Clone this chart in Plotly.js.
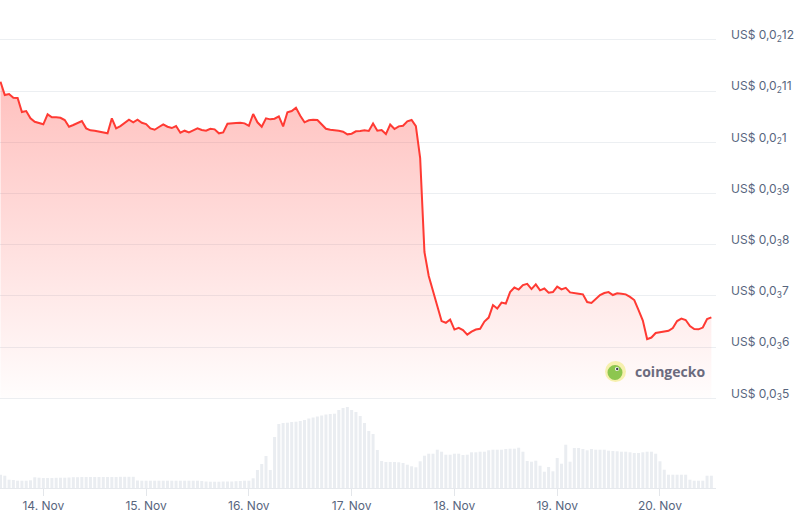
<!DOCTYPE html>
<html>
<head>
<meta charset="utf-8">
<script src="https://cdn.plot.ly/plotly-3.0.1.min.js"></script>
<style>html,body{margin:0;padding:0;background:#fff;}#chart{width:811px;height:518px;}</style>
</head>
<body>
<div id="chart"></div>
<script>
// Hourly series start (first hourly point) and count
const seriesStart = "2024-11-13T14:00:00";
// Price in USD, hourly from 13 Nov 14:00 to 20 Nov 12:00
const price = [
0.0011184,0.0010924,0.0010943,0.0010871,0.0010865,0.0010592,0.0010611,0.0010469,0.0010402,0.0010383,
0.0010352,0.0010547,0.0010488,0.0010488,0.0010480,0.0010436,0.0010305,0.0010338,0.0010371,0.0010416,
0.0010273,0.0010234,0.0010227,0.0010211,0.0010201,0.0010176,0.0010469,0.0010273,0.0010318,0.0010371,
0.0010441,0.0010391,0.0010441,0.0010383,0.0010357,0.0010273,0.0010246,0.0010299,0.0010352,0.0010305,
0.0010279,0.0010318,0.0010187,0.0010227,0.0010195,0.0010234,0.0010273,0.0010240,0.0010227,0.0010266,
0.0010254,0.0010176,0.0010195,0.0010363,0.0010363,0.0010377,0.0010383,0.0010371,0.0010324,0.0010553,
0.0010391,0.0010305,0.0010469,0.0010449,0.0010461,0.0010508,0.0010312,0.0010586,0.0010611,0.0010676,
0.0010520,0.0010391,0.0010430,0.0010441,0.0010436,0.0010352,0.0010266,0.0010246,0.0010240,0.0010227,
0.0010207,0.0010156,0.0010168,0.0010215,0.0010221,0.0010234,0.0010221,0.0010367,0.0010227,0.0010240,
0.0010162,0.0010348,0.0010260,0.0010312,0.0010324,0.0010410,0.0010436,0.0010318,0.0009693,0.0007858,
0.0007389,0.0007115,0.0006803,0.0006510,0.0006477,0.0006539,0.0006344,0.0006379,0.0006334,0.0006246,
0.0006305,0.0006344,0.0006360,0.0006500,0.0006578,0.0006822,0.0006754,0.0006871,0.0006852,0.0007076,
0.0007164,0.0007125,0.0007213,0.0007238,0.0007135,0.0007227,0.0007110,0.0007145,0.0007063,0.0007076,
0.0007184,0.0007129,0.0007158,0.0007070,0.0007063,0.0007043,0.0007031,0.0006881,0.0006862,0.0006949,
0.0007018,0.0007057,0.0007076,0.0007018,0.0007053,0.0007043,0.0007031,0.0006983,0.0006920,0.0006725,
0.0006520,0.0006158,0.0006188,0.0006276,0.0006295,0.0006309,0.0006319,0.0006373,0.0006510,0.0006559,
0.0006530,0.0006412,0.0006354,0.0006348,0.0006383,0.0006549,0.0006582
];
// Volume (relative units), hourly
const volume = [
133,123,83,80,73,73,73,77,107,103,
100,100,100,102,103,103,105,108,108,110,
110,110,110,110,110,110,110,110,112,112,
112,112,75,73,73,73,73,73,73,73,
73,73,73,73,73,73,73,70,65,63,
63,63,65,65,65,68,70,73,73,97,
180,240,320,180,510,640,650,653,660,663,
670,680,695,705,715,725,735,740,743,780,
800,810,780,760,720,650,570,540,380,270,
260,260,260,257,250,233,217,207,267,323,
343,343,383,363,333,333,343,343,330,333,
357,357,363,363,377,383,383,383,390,393,
393,403,363,270,263,273,223,163,210,167,
300,243,433,263,400,400,390,377,390,383,
383,383,373,370,367,363,363,357,350,350,
357,363,363,343,267,183,133,133,133,133,
133,83,73,73,73,123,123
];
// Axis ticks
const yTickVals = [0.0005,0.0006,0.0007,0.0008,0.0009,0.001,0.0011,0.0012];
const yTickText = ["US$ 0,0<sub>3</sub>5","US$ 0,0<sub>3</sub>6","US$ 0,0<sub>3</sub>7","US$ 0,0<sub>3</sub>8","US$ 0,0<sub>3</sub>9","US$ 0,0<sub>2</sub>1","US$ 0,0<sub>2</sub>11","US$ 0,0<sub>2</sub>12"];
const xTickVals = ["2024-11-14","2024-11-15","2024-11-16","2024-11-17","2024-11-18","2024-11-19","2024-11-20"];
const xRange = ["2024-11-13 13:53","2024-11-20 13:05"];

function pad(n){return (n<10?"0":"")+n;}
const t0 = new Date(seriesStart+"Z").getTime();
const times = price.map((_, i) => {
  const d = new Date(t0 + i*3600000);
  return d.getUTCFullYear()+"-"+pad(d.getUTCMonth()+1)+"-"+pad(d.getUTCDate())+" "+pad(d.getUTCHours())+":00";
});
const floorVal = yTickVals[0];
const baseline = times.map(() => floorVal);

const RED = "#ff3a33";
const TXT = "#58667e";
const FONT = "Inter, 'DejaVu Sans', sans-serif";

const traces = [
  {type:"bar", x:times, y:volume, yaxis:"y2", marker:{color:"#eaedf1", line:{width:0}}, hoverinfo:"skip"},
  {type:"scatter", mode:"lines", x:times, y:baseline, line:{width:0, color:"rgba(0,0,0,0)"}, hoverinfo:"skip", showlegend:false},
  {type:"scatter", mode:"lines", x:times, y:price, fill:"tonexty",
   fillgradient:{type:"vertical", start:0.0005, stop:0.00116,
     colorscale:[[0,"rgba(255,58,51,0.01)"],[1,"rgba(255,58,51,0.34)"]]},
   line:{color:RED, width:2}, hoverinfo:"skip"}
];

const layout = {
  width:811, height:518,
  margin:{l:0, r:95, t:20, b:30},
  paper_bgcolor:"#ffffff", plot_bgcolor:"#ffffff",
  showlegend:false, bargap:0.3,
  font:{family:FONT, size:12, color:TXT},
  xaxis:{type:"date", range:xRange, tickvals:xTickVals, tickformat:"%d. %b",
    showgrid:false, zeroline:false, showline:true, linecolor:"#e6e9ed", linewidth:1,
    ticks:"outside", ticklen:7, tickcolor:"#e3e6ea", tickwidth:1,
    tickfont:{family:FONT, size:12, color:TXT}, fixedrange:true},
  yaxis:{range:[0.000325, 0.0012389], side:"right", tickvals:yTickVals, ticktext:yTickText,
    showgrid:true, gridcolor:"#eceff2", gridwidth:1, zeroline:false, showline:false,
    ticks:"", ticklabelshift:-5, ticklabelstandoff:14,
    tickfont:{family:FONT, size:12, color:TXT}, fixedrange:true},
  yaxis2:{overlaying:"y", range:[0, 4680], showgrid:false, showticklabels:false, zeroline:false, showline:false, fixedrange:true},
  shapes:[
    {type:"circle", xref:"paper", yref:"paper", x0:605/716, x1:626/716, y0:(488-382)/468, y1:(488-361)/468, fillcolor:"#f6f0ae", line:{width:0}},
    {type:"circle", xref:"paper", yref:"paper", x0:607.5/716, x1:622.5/716, y0:(488-380)/468, y1:(488-365)/468, fillcolor:"#8dc64f", line:{width:0}},
    {type:"circle", xref:"paper", yref:"paper", x0:615/716, x1:619/716, y0:(488-371)/468, y1:(488-367)/468, fillcolor:"#ffffff", line:{width:0}},
    {type:"circle", xref:"paper", yref:"paper", x0:616/716, x1:618.4/716, y0:(488-370.2)/468, y1:(488-367.8)/468, fillcolor:"#3d3d4d", line:{width:0}}
  ],
  annotations:[
    {xref:"paper", yref:"paper", x:633/716, y:(488-371)/468, xanchor:"left", yanchor:"middle", showarrow:false,
     text:"<b>coingecko</b>", font:{family:"'Open Sans', Inter, sans-serif", size:14, color:"#6b6b7e"}}
  ]
};

Plotly.newPlot("chart", traces, layout, {displayModeBar:false, staticPlot:true});
</script>
</body>
</html>
